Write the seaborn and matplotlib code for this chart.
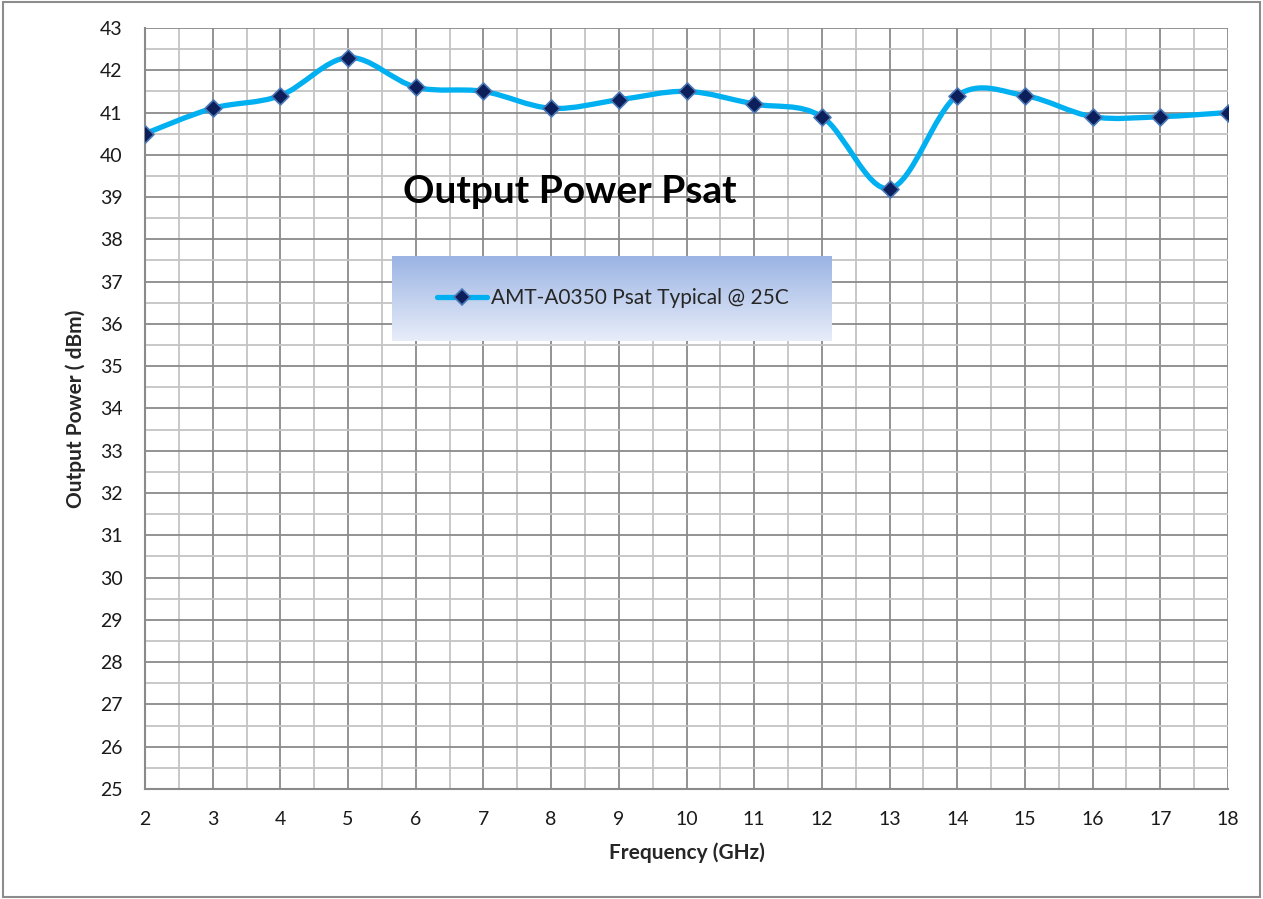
import numpy as np
import pandas as pd
import seaborn as sns
import matplotlib.pyplot as plt
from matplotlib.path import Path
from matplotlib.patches import PathPatch, Rectangle
from matplotlib.lines import Line2D
from matplotlib.colors import LinearSegmentedColormap

freq = [2, 3, 4, 5, 6, 7, 8, 9, 10, 11, 12, 13, 14, 15, 16, 17, 18]
psat = [40.5, 41.1, 41.4, 42.3, 41.6, 41.5, 41.1, 41.3, 41.5, 41.2, 40.9,
        39.2, 41.4, 41.4, 40.9, 40.9, 41.0]
series_name = 'AMT-A0350 Psat Typical @ 25C'

sns.set_style('white')
plt.rcParams['font.family'] = ['Lato', 'DejaVu Sans']

df = pd.DataFrame({'freq': freq, 'psat': psat})

W, H = 1263, 899
fig = plt.figure(figsize=(W / 100, H / 100), dpi=100)
fig.patches.append(Rectangle((0.002, 0.002), 0.996, 0.996, transform=fig.transFigure,
                             fill=False, edgecolor='#8c8c8c', linewidth=1.5))
ax = fig.add_axes([0.1148, 0.1224, 0.8575, 0.8465])

# excel-style smoothed line as cubic bezier segments through the data points
pts = df[['freq', 'psat']].to_numpy()
verts = [pts[0]]
codes = [Path.MOVETO]
n = len(pts)
for i in range(n - 1):
    p0 = pts[max(i - 1, 0)]
    p1 = pts[i]
    p2 = pts[i + 1]
    p3 = pts[min(i + 2, n - 1)]
    verts += [p1 + (p2 - p0) / 6, p2 - (p3 - p1) / 6, p2]
    codes += [Path.CURVE4] * 3
ax.add_patch(PathPatch(Path(verts, codes), fill=False, edgecolor='#00b0f0',
                       linewidth=3.8, capstyle='round', joinstyle='round', zorder=3))

sns.scatterplot(data=df, x='freq', y='psat', marker='D', s=75, color='#0c1f5a',
                edgecolor='#4a78b8', linewidth=1.2, zorder=4, ax=ax, legend=False)

ax.set_xlim(2, 18)
ax.set_ylim(25, 43)
ax.set_xticks(range(2, 19))
ax.set_yticks(range(25, 44))
ax.set_xticks(np.arange(2.5, 18, 1), minor=True)
ax.set_yticks(np.arange(25.5, 43, 1), minor=True)
ax.grid(which='major', color='#8a8a8a', linewidth=1.3)
ax.grid(which='minor', color='#c4c4c4', linewidth=1.3)
ax.set_axisbelow(True)
for side in ['top', 'right']:
    ax.spines[side].set_visible(False)
for side in ['left', 'bottom']:
    ax.spines[side].set_color('#8a8a8a')
    ax.spines[side].set_linewidth(1.5)
ax.tick_params(which='major', direction='out', length=7, width=1.3, color='#8a8a8a',
               labelsize=14, pad=9, labelcolor='#1a1a1a')
ax.tick_params(which='minor', length=0)

ax.set_xlabel('Frequency (GHz)', fontsize=15, fontweight='bold', labelpad=10)
ax.set_ylabel('Output Power ( dBm)', fontsize=15, fontweight='bold', labelpad=10)

ax.text(0.238, 0.7845, 'Output Power Psat', transform=ax.transAxes, fontsize=28,
        fontweight='bold', ha='left', va='center', color='black')

# legend box with a vertical gradient
grad = np.linspace(0, 1, 256).reshape(-1, 1)
cmap = LinearSegmentedColormap.from_list('g', ['#9bb4e4', '#e8edf9'])
lx0, lx1 = 392, 832
ly0, ly1 = 256, 341
ax_l = fig.add_axes([lx0 / W, 1 - ly1 / H, (lx1 - lx0) / W, (ly1 - ly0) / H])
ax_l.imshow(grad, aspect='auto', cmap=cmap, extent=[0, 1, 0, 1], origin='upper')
ax_l.set_axis_off()
handle = Line2D([], [], color='#00b0f0', linewidth=3.8, marker='D', markersize=8,
                markerfacecolor='#0c1f5a', markeredgecolor='#4a78b8', markeredgewidth=1.2)
ax_l.legend([handle], [series_name], loc='center left',
            bbox_to_anchor=((437 - lx0) / (lx1 - lx0), 0.506), frameon=False,
            fontsize=15, handlelength=2.4, handletextpad=0.2, borderpad=0,
            borderaxespad=0)

fig.savefig('out.png', dpi=100)
